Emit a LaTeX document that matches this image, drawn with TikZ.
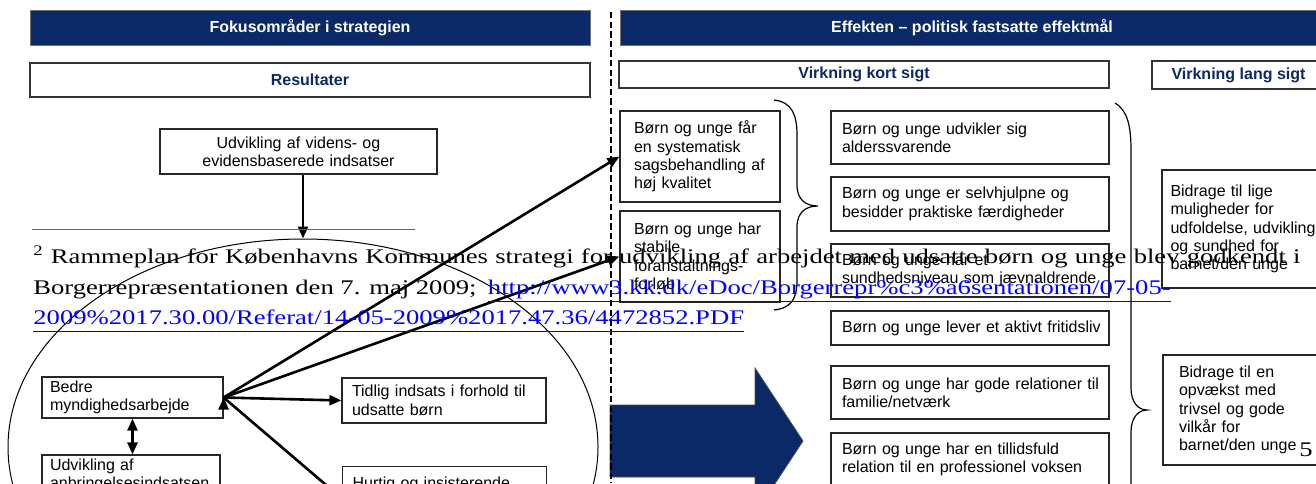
\documentclass[tikz,border=0pt]{standalone}
\usepackage{fontspec}
\setmainfont{Liberation Serif}
\setsansfont{Liberation Sans}
\newfontfamily\fnfont[FakeStretch=1.28]{Liberation Serif}
\usepackage{tikz}
\usetikzlibrary{arrows.meta}
\usetikzlibrary{positioning, shapes.geometric}
\definecolor{navy}{RGB}{11,41,102}
\definecolor{linkblue}{RGB}{0,0,255}

\begin{document}
\begin{tikzpicture}[x=0.5pt, y=-0.5pt,
		every node/.style={font=\sffamily\fontsize{8}{9.2}\selectfont},
		head/.style={draw=black!55, fill=navy, text=white, font=\sffamily\bfseries\fontsize{8}{9.2}\selectfont, minimum height=17.5pt, inner sep=0pt},
		sub/.style={draw=black!80, line width=0.6pt, text=navy, font=\sffamily\bfseries\fontsize{8}{9.2}\selectfont, inner sep=0pt},
		box/.style={draw=black!85, line width=0.6pt, align=left, inner ysep=0pt},
		arr/.style={line width=1.3pt, -{Triangle[length=6pt,width=5pt]}},
		dbl/.style={line width=1.3pt, {Triangle[length=6pt,width=5pt]}-{Triangle[length=6pt,width=5pt]}},
		brace/.style={line width=0.6pt},
		fn/.style={font=\fnfont\fontsize{10.4}{15.25}\selectfont, inner sep=0pt, anchor=base west},
		link/.style={fn, text=linkblue},
		uline/.style={linkblue, line width=0.8pt}]
			\useasboundingbox (0,0) rectangle (1316,483);
			\clip (0,0) rectangle (1316,483);
			
			\node[head, minimum width=280pt] (fokus) at (310,27.5) {Fokusområder i strategien};
			\node[head, minimum width=352pt] (effekt) at (972,27.5) {Effekten – politisk fastsatte effektmål};
			\node[sub, minimum width=280pt, minimum height=17pt] (result) at (310,80) {Resultater};
			\node[sub, minimum width=245pt, minimum height=13.5pt] (kort) at (864,74.5) {Virkning kort sigt};
			\node[sub, minimum width=86.5pt, minimum height=14pt] (lang) at (1238.5,75) {Virkning lang sigt};
			
			\node[box, align=center, text width=130.5pt, inner xsep=4pt, minimum height=22.5pt] (videns) at (298.5,151.5) {Udvikling af videns- og\\evidensbaserede indsatser};
			\node[draw, ellipse, line width=0.5pt, minimum width=295pt, minimum height=208pt, inner sep=0pt] (ring) at (303,447) {};
			
			\begin{scope}[every node/.append style={box}]
				\node[text width=82.5pt, inner xsep=4pt, minimum height=20.5pt] (bedre) at (132.5,397.5) {Bedre\\myndighedsarbejde};
				\node[text width=92pt, inner xsep=5pt, minimum height=22.5pt] (tidlig) at (444,400.5) {Tidlig indsats i forhold til\\udsatte børn};
				\node[text width=81pt, inner xsep=4pt, minimum height=20.5pt] (anbring) at (131,475.5) {Udvikling af\\anbringelsesindsatsen};
				\node[text width=92pt, inner xsep=5pt, inner ysep=3pt, text height=8pt, text depth=18pt, anchor=north west] (hurtig) at (342,466) {Hurtig og insisterende};
				
				\node[text width=66pt, inner xsep=7pt, minimum height=45.5pt] (sag) at (700,156.5) {Børn og unge får\\en systematisk\\\mbox{sagsbehandling af}\\høj kvalitet};
				\node[text width=66pt, inner xsep=7pt, minimum height=45.5pt] (stabil) at (700,256.5) {Børn og unge har\\stabile\\foranstaltnings-\\forløb};
				
				\node[text width=128pt, inner xsep=5.5pt, minimum height=26.5pt] (alder) at (970,137.5) {Børn og unge udvikler sig\\alderssvarende};
				\node[text width=128pt, inner xsep=5.5pt, minimum height=27pt] (selv) at (970,204) {\mbox{Børn og unge er selvhjulpne og}\\\mbox{besidder praktiske færdigheder}};
				\node[text width=128pt, inner xsep=5.5pt, minimum height=26.5pt] (sund) at (970,270.5) {Børn og unge har et\\\mbox{sundhedsniveau som jævnaldrende}};
				\node[text width=128pt, inner xsep=5.5pt, minimum height=17pt] (fritid) at (970,328) {\mbox{Børn og unge lever et aktivt fritidsliv}};
				\node[text width=128pt, inner xsep=5.5pt, minimum height=26.5pt] (relat) at (970,392.5) {\mbox{Børn og unge har gode relationer til}\\familie/netværk};
				\node[text width=128pt, inner xsep=5.5pt, minimum height=26.5pt] (tillid) at (970,459.5) {Børn og unge har en tillidsfuld\\\mbox{relation til en professionel voksen}};
				
				\node[text width=73pt, inner xsep=4.25pt, minimum height=59pt] (lige) at (1243.5,229) {Bidrage til lige\\muligheder for\\\mbox{udfoldelse, udvikling}\\og sundhed for\\barnet/den unge};
				\node[text width=65pt, inner xsep=8pt, minimum height=55pt] (opvaekst) at (1244,410) {Bidrage til en\\opvækst med\\trivsel og gode\\vilkår for\\barnet/den unge};
			\end{scope}
			
			\draw[arr] (videns.south -| ring.north) -- (ring.north);
			\draw[arr] (bedre.east) edge (sag.west)
			(bedre.east) edge (stabil.west)
			(bedre.east) edge (tidlig.west)
			(bedre.east) edge (hurtig.west);
			\draw[dbl] (bedre.south) -- (bedre.south |- anbring.north);
			
			\fill[navy, draw=black!70, line width=0.4pt] (610,405) -- (755,405) -- (755,368) -- (803,441) -- (755,514) -- (755,477) -- (610,477) -- cycle;
			\draw[line width=0.8pt, dash pattern=on 3.2pt off 1.6pt] (611,12) -- (611,483);
			
			\draw[brace] (774,100) .. controls (792,102) and (797,115) .. (797,135) -- (797,185)
			.. controls (797,200) and (806,206) .. (818,206)
			.. controls (806,206) and (797,212) .. (797,227) -- (797,280)
			.. controls (797,298) and (792,308) .. (774,310);
			\draw[brace] (1115,103) .. controls (1127,110) and (1131,125) .. (1131,150) -- (1131,388)
			.. controls (1131,402) and (1138,410) .. (1147,410)
			.. controls (1138,410) and (1131,418) .. (1131,432) -- (1131,670)
			.. controls (1131,695) and (1127,710) .. (1115,717);
			
			\draw[black!60, line width=0.5pt] (32,229) -- (415,229);
			\node[fn] (fnA) at (33,263) {\hbox to 633.5pt{\textsuperscript{2} Rammeplan for Københavns Kommunes strategi for udvikling af arbejdet med udsatte børn og unge blev godkendt i}};
			\node[fn] (fnB) at (33,294) {Borgerrepræsentationen den 7. maj 2009;};
			\node[link] (urlA) at ([xshift=5.3pt]fnB.base east) {http://www3.kk.dk/eDoc/Borgerrepr\%c3\%a6sentationen/07-05-};
			\node[link] (urlB) at (33,324) {2009\%2017.30.00/Referat/14-05-2009\%2017.47.36/4472852.PDF};
			\draw[uline] ([yshift=-3.7pt]urlA.base west) -- ([yshift=-3.7pt]urlA.base east);
			\draw[uline] ([yshift=-3.7pt]urlB.base west) -- ([yshift=-3.7pt]urlB.base east);
			\node[fn, anchor=base east] (pnum) at (1313,456) {5};
		\end{tikzpicture}
\end{document}
